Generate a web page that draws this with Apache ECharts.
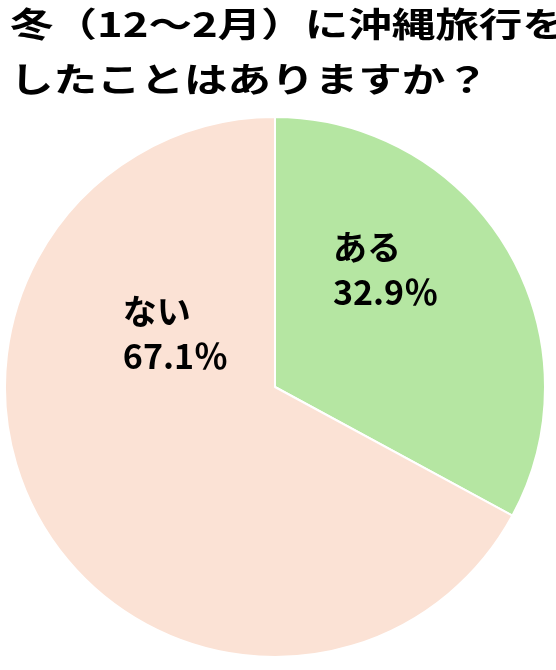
<!DOCTYPE html>
<html>
<head>
<meta charset="utf-8">
<style>html,body{margin:0;padding:0;background:#fff;}#c{width:556px;height:670px;}</style>
<script src="https://cdn.jsdelivr.net/npm/echarts@6/dist/echarts.min.js"></script>
</head>
<body>
<div id="c"></div>
<script>
const titleLines = ['冬（12〜2月）に沖縄旅行を', 'したことはありますか？'];
const categories = ['ある', 'ない'];
const values = [32.9, 67.1];
const colors = ['#B5E6A2', '#FBE2D5'];
const labelOffsets = [[-8, -47], [19, -124]];

const chart = echarts.init(document.getElementById('c'), null, {renderer: 'canvas'});
const FONT = '"Noto Sans CJK JP", "Noto Sans", sans-serif';
const lineStyle = {align: 'left', fontFamily: FONT, fontWeight: 'bold', fontSize: 34, lineHeight: 45, color: '#000'};
chart.setOption({
  animation: false,
  backgroundColor: '#fff',
  graphic: [{
    type: 'text',
    left: 10,
    top: -3,
    scaleX: 1.28,
    style: {
      text: titleLines.join('\n'),
      fontSize: 34,
      fontWeight: 'bold',
      fontFamily: FONT,
      lineHeight: 55,
      fill: '#000'
    }
  }],
  series: [{
    type: 'pie',
    center: [275, 387],
    radius: 270,
    startAngle: 90,
    clockwise: true,
    avoidLabelOverlap: false,
    itemStyle: {borderColor: '#fff', borderWidth: 2},
    label: {
      show: true,
      position: 'inside',
      fontFamily: FONT,
      fontWeight: 'bold',
      fontSize: 34,
      lineHeight: 45,
      color: '#000',
      formatter: p => '{n|' + p.name + '}\n{v|' + p.value.toFixed(1) + '％}',
      rich: {n: lineStyle, v: lineStyle}
    },
    labelLine: {show: false},
    data: categories.map((c, i) => ({
      name: c,
      value: values[i],
      itemStyle: {color: colors[i]},
      label: {offset: labelOffsets[i]}
    }))
  }]
});
</script>
</body>
</html>
